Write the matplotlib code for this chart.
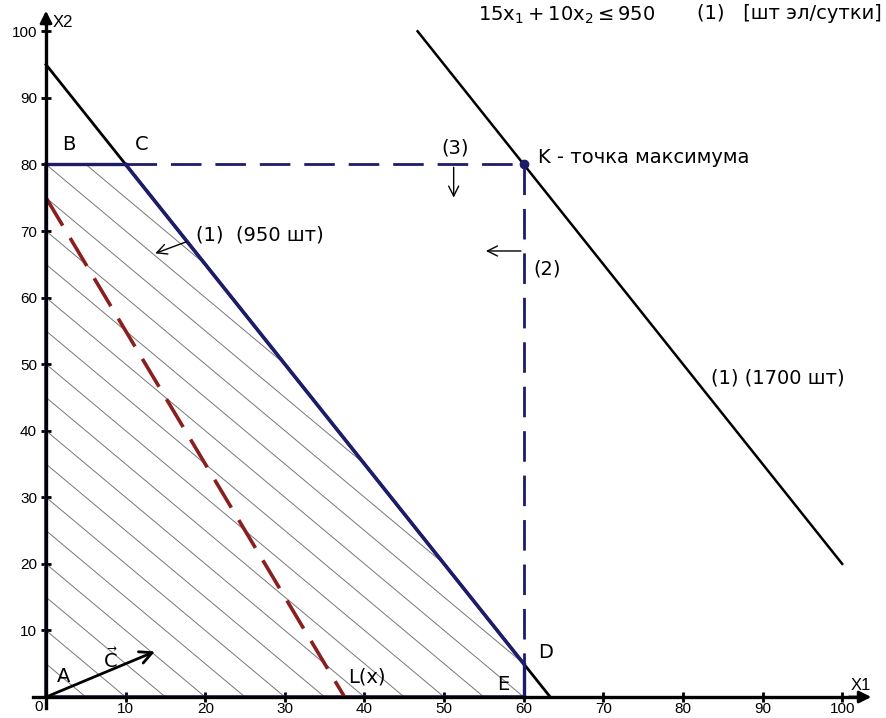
import matplotlib
matplotlib.use("Agg")
import matplotlib.pyplot as plt
import numpy as np
from matplotlib.patches import Polygon

plt.rcParams['font.family'] = ['Liberation Sans', 'DejaVu Sans']
plt.rcParams['mathtext.fontset'] = 'custom'
plt.rcParams['mathtext.rm'] = 'DejaVu Sans'
plt.rcParams['mathtext.it'] = 'DejaVu Sans'

NAVY = '#1c1c6a'
RED = '#8b1e1e'

# constraint data
line950 = ([0, 63.33], [95, 0])
line1700 = ([46.67, 100], [100, 20])
region_x = [0, 0, 10, 60, 60]
region_y = [0, 80, 80, 5, 0]
obj_x = [0, 37.5]
obj_y = [75, 0]
vec_c = (14, 7)
ticks = [10, 20, 30, 40, 50, 60, 70, 80, 90, 100]


def main():
    fig = plt.figure(figsize=(8.86, 7.18), dpi=100)
    ax = fig.add_axes([0, 0, 1, 1])
    ax.set_xlim(-5.78, 105.5)
    ax.set_ylim(-3.15, 104.7)

    # axes through origin
    for s in ['top', 'right']:
        ax.spines[s].set_visible(False)
    ax.spines['left'].set_position(('data', 0))
    ax.spines['bottom'].set_position(('data', 0))
    ax.spines['left'].set_bounds(-1.6, 101.5)
    ax.spines['bottom'].set_bounds(-1.6, 102)
    ax.spines['left'].set_linewidth(2.4)
    ax.spines['bottom'].set_linewidth(2.4)
    ax.set_xticks(ticks)
    ax.set_yticks(ticks)
    ax.tick_params(direction='inout', length=7, width=2, labelsize=11, pad=0, colors='black')
    ax.tick_params(axis='y', pad=3)
    ax.text(-0.4, -0.5, '0', ha='right', va='top', fontsize=11)
    ax.annotate('', xy=(104, 0), xytext=(100.5, 0),
                arrowprops=dict(arrowstyle='-|>', color='black', lw=2, mutation_scale=18),
                annotation_clip=False)
    ax.annotate('', xy=(0, 103.5), xytext=(0, 100.5),
                arrowprops=dict(arrowstyle='-|>', color='black', lw=2, mutation_scale=18),
                annotation_clip=False)
    ax.text(101.0, 1.0, 'X1', fontsize=12)
    ax.text(0.8, 100.6, 'X2', fontsize=12)

    # hatched feasible region
    poly = Polygon(list(zip(region_x, region_y)), closed=True, facecolor='none', edgecolor='none')
    ax.add_patch(poly)
    for k in range(1, 30):
        c = 5 * k
        ln, = ax.plot([0, c], [c, 0], color='#777777', lw=0.7)
        ln.set_clip_path(poly)

    # constraint (1): 950
    ax.plot(*line950, color='black', lw=2)
    ax.plot([10, 60], [80, 5], color=NAVY, lw=2.6)
    # constraint (1): 1700
    ax.plot(*line1700, color='black', lw=1.8)

    # region boundary
    ax.plot([0, 0], [0, 80], color=NAVY, lw=2.6)
    ax.plot([0, 10], [80, 80], color=NAVY, lw=2.4)
    ax.plot([0, 60], [0, 0], color=NAVY, lw=2.6)
    ax.plot([60, 60], [0, 5], color=NAVY, lw=2.4)
    ax.plot([10, 60], [80, 80], color=NAVY, lw=2, dashes=(11, 5))
    ax.plot([60, 60], [80, 5], color=NAVY, lw=2, dashes=(11, 5))

    # objective line
    ax.plot(obj_x, obj_y, color=RED, lw=2.6, dashes=(9, 4))

    # vector C
    ax.annotate('', xy=vec_c, xytext=(0, 0),
                arrowprops=dict(arrowstyle='->', color='black', lw=2, mutation_scale=22))

    # point K
    ax.plot([60], [80], 'o', color=NAVY, ms=6)

    # direction arrows
    arr = dict(arrowstyle='->', color='black', lw=1, mutation_scale=18)
    ax.annotate('', xy=(13.4, 66.5), xytext=(17.9, 68.5), arrowprops=arr)
    ax.annotate('', xy=(51.2, 74.6), xytext=(51.2, 80), arrowprops=arr)
    ax.annotate('', xy=(54.9, 67), xytext=(60, 67), arrowprops=arr)

    fs = 14
    lab = dict(fontsize=fs, family='DejaVu Sans')
    ax.text(2.0, 82.2, 'B', **lab)
    ax.text(11.2, 82.2, 'C', **lab)
    ax.text(61.8, 5.8, 'D', **lab)
    ax.text(56.6, 1.0, 'E', **lab)
    ax.text(1.3, 2.2, 'A', **lab)
    ax.text(7.2, 4.4, r'$\vec{\mathrm{C}}$', fontsize=fs)
    ax.text(38.0, 2.2, 'L(x)', **lab)
    ax.text(49.6, 81.6, '(3)', **lab)
    ax.text(61.2, 63.4, '(2)', **lab)
    ax.text(61.8, 80.2, 'K - точка максимума', **lab)
    ax.text(18.8, 68.6, '(1)  (950 шт)', **lab)
    ax.text(83.5, 47.1, '(1) (1700 шт)', **lab)
    ax.text(54.3, 101.6, r'$15\mathrm{x}_1+10\mathrm{x}_2 \leq 950$', fontsize=fs,
            clip_on=False)
    ax.text(81.8, 101.8, '(1)   [шт эл/сутки]', clip_on=False, **lab)

    fig.savefig('out.png', dpi=100)


if __name__ == "__main__":
    main()
